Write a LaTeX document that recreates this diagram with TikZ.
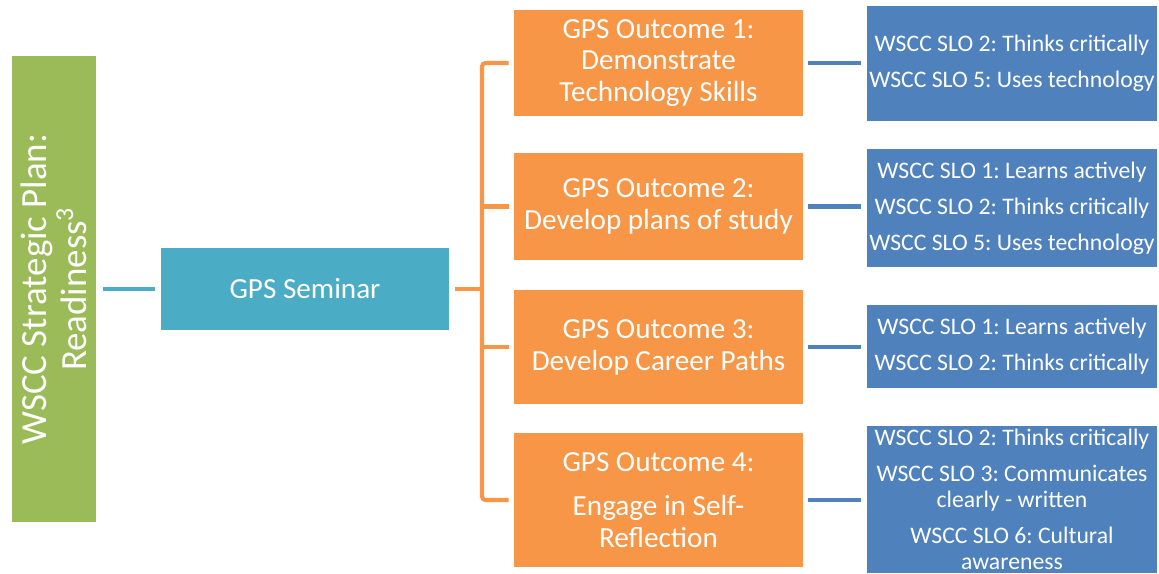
\documentclass[tikz,border=0pt]{standalone}
\usepackage{fontspec}
\setmainfont{Carlito}
\usepackage[HTML]{xcolor}
\usetikzlibrary{calc}
\frenchspacing

\definecolor{planGreen}{HTML}{9BBB59}
\definecolor{semTeal}{HTML}{4BACC6}
\definecolor{outOrange}{HTML}{F79646}
\definecolor{sloBlue}{HTML}{4F81BD}

\tikzset{
  box/.style={draw=none, inner sep=0pt, text=white, align=center},
  outbox/.style={box, fill=outOrange, minimum width=5.78cm,
    font=\fontsize{16.6}{18.1}\selectfont},
  slobox/.style={box, fill=sloBlue, minimum width=5.8cm,
    font=\fontsize{13.5}{14.8}\selectfont},
  link/.style={line width=2.3pt}
}

\begin{document}
\begin{tikzpicture}[x=0.02cm, y=-0.02cm]
\useasboundingbox (0,0) rectangle (1159,574);
% left column
\node[box, fill=planGreen, rotate=90, minimum width=9.32cm, minimum height=1.68cm,
  font=\fontsize{21}{22.5}\selectfont] (plan) at (54,289)
  {WSCC Strategic Plan:\\Readiness\textsuperscript{3}};
\node[box, fill=semTeal, minimum width=5.76cm, minimum height=1.66cm,
  font=\fontsize{16.6}{18.1}\selectfont] (seminar) at (305,289) {GPS Seminar};
% outcomes
\node[outbox, minimum height=2.12cm] (out1) at (658.5,63)
  {GPS Outcome 1:\\Demonstrate\\Technology Skills};
\node[outbox, minimum height=2.14cm] (out2) at (658.5,206.5)
  {GPS Outcome 2:\\Develop plans of study};
\node[outbox, minimum height=2.28cm] (out3) at (658.5,347)
  {GPS Outcome 3:\\Develop Career Paths};
\node[outbox, minimum height=2.68cm] (out4) at (658.5,500)
  {GPS Outcome 4:\\[7.4pt]Engage in Self-\\Reflection};
% student learning outcomes
\node[slobox, minimum height=2.3cm] (slo1) at (1012,63.5)
  {WSCC SLO 2: Thinks critically\\[5.6pt]WSCC SLO 5: Uses technology};
\node[slobox, minimum height=2.36cm] (slo2) at (1012,208)
  {WSCC SLO 1: Learns actively\\[5.6pt]WSCC SLO 2: Thinks critically\\[5.6pt]WSCC SLO 5: Uses technology};
\node[slobox, minimum height=1.66cm] (slo3) at (1012,346.5)
  {WSCC SLO 1: Learns actively\\[5.6pt]WSCC SLO 2: Thinks critically};
\node[slobox, minimum height=2.94cm] (slo4) at (1012,499.5)
  {WSCC SLO 2: Thinks critically\\[5.6pt]WSCC SLO 3: Communicates\\clearly - written\\[5.6pt]WSCC SLO 6: Cultural\\awareness};
% connectors
\coordinate (trunk) at (482,289);
\draw[link, semTeal, shorten <=0.14cm, shorten >=0.12cm] (plan.south) -- (seminar.west);
\draw[link, outOrange, shorten <=0.12cm] (seminar.east) -- (trunk);
\draw[link, outOrange, rounded corners=2pt, shorten <=0.1cm, shorten >=0.1cm]
  (out1.west) -| (trunk) |- (out4.west);
\draw[link, outOrange, shorten >=0.1cm] (trunk |- out2.west) -- (out2.west);
\draw[link, outOrange, shorten >=0.1cm] (trunk |- out3.west) -- (out3.west);
\foreach \i in {1,...,4}
  \draw[link, sloBlue, shorten <=0.1cm, shorten >=0.12cm] (out\i.east) -- (out\i.east -| slo\i.west);
\end{tikzpicture}
\end{document}
